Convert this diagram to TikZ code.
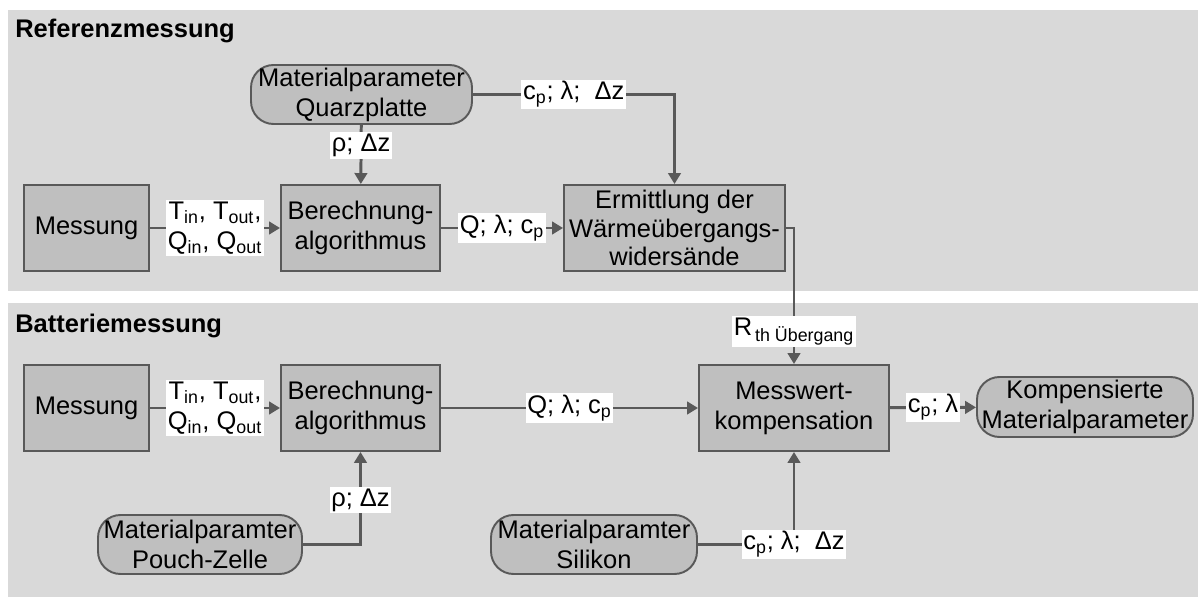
\documentclass[tikz,border=0pt]{standalone}
\usepackage{fontspec}
\setmainfont{Liberation Sans}
\usetikzlibrary{arrows.meta}
\definecolor{panelgrau}{HTML}{D9D9D9}
\definecolor{boxgrau}{HTML}{BFBFBF}
\definecolor{liniengrau}{HTML}{595959}

\begin{document}
\begin{tikzpicture}[x=0.02cm, y=-0.02cm,
	every node/.style={font=\fontsize{14.5}{17}\selectfont},
	block/.style={draw=liniengrau, fill=boxgrau, line width=1.1pt, align=center, inner sep=0pt, minimum height=1.72cm},
	param/.style={block, rounded corners=0.45cm, minimum height=1.18cm},
	pfeil/.style={draw=liniengrau, line width=1.7pt, -{Triangle[length=0.22cm, width=0.25cm]}},
	wert/.style={fill=white, inner sep=1pt, align=center},
	titel/.style={font=\fontsize{14.5}{17}\selectfont\bfseries, anchor=west, inner sep=0pt}]
			\useasboundingbox (0,0) rectangle (1198,597);
			\filldraw[fill=panelgrau, draw=black!15, line width=0.4pt] (8,10) rectangle (1198,290);
			\filldraw[fill=panelgrau, draw=black!15, line width=0.4pt] (8,303) rectangle (1198,597);
			\node[titel] (ref) at (15,31) {Referenzmessung};
			\node[titel] (bat) at (15,326) {Batteriemessung};
			\node[block, minimum width=2.5cm] (messA) at (86.5,228) {Messung};
			\node[block, minimum width=3.18cm] (berA) at (360.5,228) {Berechnung-\\algorithmus};
			\node[param, minimum width=4.42cm] (quarz) at (361.5,94.5) {Materialparameter\\Quarzplatte};
			\node[block, minimum width=4.42cm, font=\fontsize{14.5}{16}\selectfont] (ermA) at (674.5,228) {Ermittlung der\\Wärmeübergangs-\\widersände};
			\node[block, minimum width=2.5cm] (messB) at (86.5,408) {Messung};
			\node[block, minimum width=3.18cm] (berB) at (360.5,408) {Berechnung-\\algorithmus};
			\node[block, minimum width=3.8cm] (mwk) at (794,408) {Messwert-\\kompensation};
			\node[param, minimum width=4.32cm, minimum height=1.2cm] (komp) at (1085,407) {Kompensierte\\Materialparameter};
			\node[param, minimum width=4.08cm] (pouch) at (200,544.5) {Materialparamter\\Pouch-Zelle};
			\node[param, minimum width=4.12cm] (silikon) at (594,544.5) {Materialparamter\\Silikon};
			\draw[pfeil] (messA) -- node[wert] {T\textsubscript{in}, T\textsubscript{out},\\Q\textsubscript{in}, Q\textsubscript{out}} (berA);
			\draw[pfeil] (quarz) -- node[wert, pos=0.35] {ρ; Δz} (berA);
			\draw[pfeil] (berA) -- node[wert] {Q; λ; c\textsubscript{p}} (ermA);
			\draw[pfeil] (quarz) -| node[wert, pos=0.25] {c\textsubscript{p}; λ;\ \ Δz} (ermA);
			\draw[pfeil] (ermA) -| node[wert, pos=0.88] {R\textsubscript{\,th Übergang}} (mwk);
			\draw[pfeil] (messB) -- node[wert] {T\textsubscript{in}, T\textsubscript{out},\\Q\textsubscript{in}, Q\textsubscript{out}} (berB);
			\draw[pfeil] (pouch) -| node[wert, pos=0.74] {ρ; Δz} (berB);
			\draw[pfeil] (berB) -- node[wert] {Q; λ; c\textsubscript{p}} (mwk);
			\draw[pfeil] (silikon) -| node[wert] {c\textsubscript{p}; λ;\ \ Δz} (mwk);
			\draw[pfeil] (mwk) -- node[wert] {c\textsubscript{p}; λ} (komp);
	\end{tikzpicture}
\end{document}
